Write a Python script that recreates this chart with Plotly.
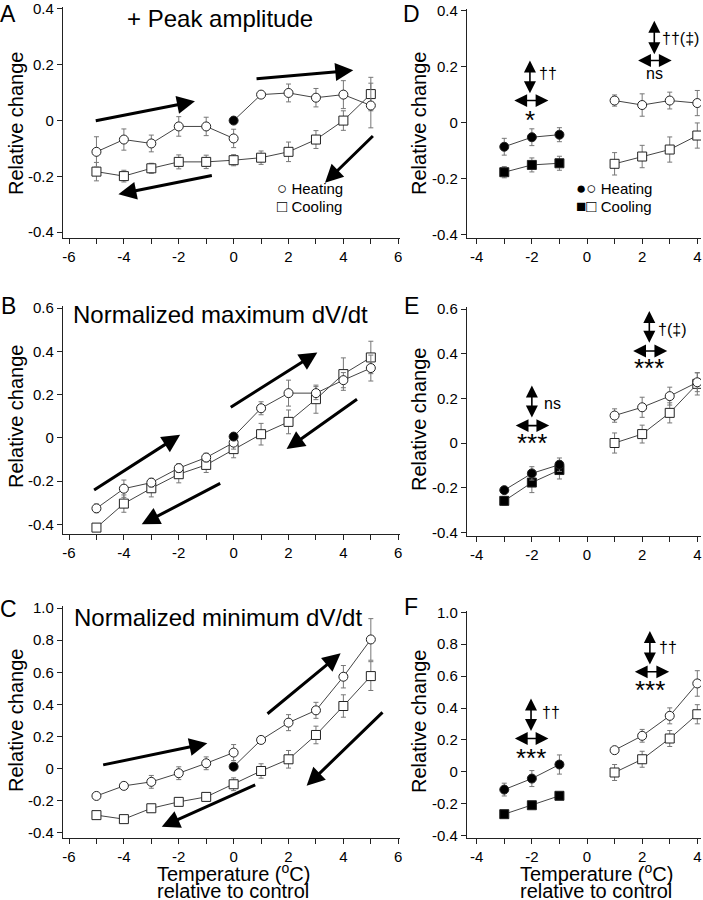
import plotly.graph_objects as go

# ---------------- data ----------------
temp_lo = [-5, -4, -3, -2, -1, 0]
temp_hi = [0, 1, 2, 3, 4, 5]
temp_all = [-5, -4, -3, -2, -1, 0, 1, 2, 3, 4, 5]
temp_neg = [-3, -2, -1]
temp_pos = [1, 2, 3, 4]

# Panel A: + Peak amplitude
a_heat_lo = [-0.112, -0.068, -0.082, -0.021, -0.021, -0.064]
a_heat_lo_err = [0.054, 0.038, 0.030, 0.035, 0.033, 0.033]
a_heat_hi = [0.0, 0.093, 0.099, 0.082, 0.093, 0.054]
a_heat_hi_err = [0.0, 0.010, 0.032, 0.033, 0.050, 0.080]
a_cool = [-0.183, -0.199, -0.171, -0.148, -0.148, -0.142, -0.133, -0.112, -0.068, 0.0, 0.095]
a_cool_err = [0.033, 0.021, 0.018, 0.025, 0.024, 0.020, 0.024, 0.035, 0.032, 0.035, 0.060]

# Panel B: normalized maximum dV/dt
b_heat_lo = [-0.326, -0.235, -0.207, -0.140, -0.091, -0.022]
b_heat_lo_err = [0.020, 0.040, 0.020, 0.020, 0.020, 0.030]
b_heat_hi = [0.006, 0.137, 0.207, 0.207, 0.267, 0.323]
b_heat_hi_err = [0.0, 0.030, 0.060, 0.030, 0.035, 0.060]
b_cool = [-0.415, -0.304, -0.233, -0.168, -0.125, -0.052, 0.017, 0.074, 0.179, 0.295, 0.372]
b_cool_err = [0.010, 0.040, 0.040, 0.040, 0.035, 0.040, 0.050, 0.055, 0.065, 0.075, 0.075]

# Panel C: normalized minimum dV/dt
c_heat_lo = [-0.173, -0.110, -0.085, -0.031, 0.031, 0.098]
c_heat_lo_err = [0.010, 0.020, 0.040, 0.040, 0.040, 0.050]
c_heat_hi = [0.010, 0.177, 0.285, 0.362, 0.572, 0.805]
c_heat_hi_err = [0.0, 0.010, 0.050, 0.050, 0.070, 0.130]
c_cool = [-0.293, -0.318, -0.250, -0.210, -0.179, -0.100, -0.017, 0.056, 0.208, 0.389, 0.576]
c_cool_err = [0.020, 0.010, 0.010, 0.010, 0.010, 0.040, 0.045, 0.055, 0.055, 0.070, 0.090]

# Panel D
d_heat_neg = [-0.085, -0.051, -0.042]
d_heat_neg_err = [0.030, 0.030, 0.025]
d_cool_neg = [-0.176, -0.150, -0.144]
d_cool_neg_err = [0.020, 0.025, 0.025]
d_heat_pos = [0.080, 0.064, 0.080, 0.071]
d_heat_pos_err = [0.020, 0.040, 0.030, 0.045]
d_cool_pos = [-0.146, -0.120, -0.095, -0.045]
d_cool_pos_err = [0.040, 0.040, 0.045, 0.045]

# Panel E
e_heat_neg = [-0.211, -0.136, -0.097]
e_heat_neg_err = [0.010, 0.030, 0.030]
e_cool_neg = [-0.259, -0.177, -0.121]
e_cool_neg_err = [0.020, 0.045, 0.040]
e_heat_pos = [0.123, 0.160, 0.210, 0.272]
e_heat_pos_err = [0.030, 0.045, 0.040, 0.042]
e_cool_pos = [0.0, 0.040, 0.135, 0.265]
e_cool_pos_err = [0.045, 0.040, 0.045, 0.050]

# Panel F
f_heat_neg = [-0.111, -0.042, 0.046]
f_heat_neg_err = [0.040, 0.050, 0.060]
f_cool_neg = [-0.265, -0.209, -0.150]
f_cool_neg_err = [0.010, 0.020, 0.020]
f_heat_pos = [0.136, 0.226, 0.351, 0.554]
f_heat_pos_err = [0.010, 0.040, 0.050, 0.080]
f_cool_pos = [-0.004, 0.079, 0.209, 0.361]
f_cool_pos_err = [0.050, 0.050, 0.050, 0.060]

# tick labels
left_x_ticks = [-6, -5, -4, -3, -2, -1, 0, 1, 2, 3, 4, 5, 6]
left_x_labels = ['-6', '', '-4', '', '-2', '', '0', '', '2', '', '4', '', '6']
right_x_ticks = [-4, -3, -2, -1, 0, 1, 2, 3, 4]
right_x_labels = ['-4', '', '-2', '', '0', '', '2', '', '4']
yt_a = [-0.4, -0.2, 0, 0.2, 0.4]
yl_a = ['-0.4', '-0.2', '0', '0.2', '0.4']
yt_b = [-0.4, -0.2, 0, 0.2, 0.4, 0.6]
yl_b = ['-0.4', '-0.2', '0', '0.2', '0.4', '0.6']
yt_c = [-0.4, -0.2, 0, 0.2, 0.4, 0.6, 0.8, 1.0]
yl_c = ['-0.4', '-0.2', '0', '0.2', '0.4', '0.6', '0.8', '1.0']

titles = ['+ Peak amplitude', 'Normalized maximum dV/dt', 'Normalized minimum dV/dt']
panel_letters = ['A', 'B', 'C', 'D', 'E', 'F']

# ---------------- styling ----------------
FONT = 'Liberation Sans, Arial, Helvetica, sans-serif'
W, H = 703, 900
LINE = '#444444'
ERR = '#777777'
MK_LINE = '#222222'
MSIZE = 9


def px(xp):
    return xp / W


def py(yp):
    return 1 - yp / H


fig = go.Figure()


def add_series(xs, ys, errs, axis, symbol, fills):
    xa = 'x' if axis == 1 else 'x%d' % axis
    ya = 'y' if axis == 1 else 'y%d' % axis
    fig.add_trace(go.Scatter(
        x=xs, y=ys, mode='lines+markers', xaxis=xa, yaxis=ya,
        line=dict(color=LINE, width=1),
        marker=dict(symbol=symbol, size=MSIZE, color=fills,
                    line=dict(color=MK_LINE, width=1)),
        error_y=dict(type='data', array=errs, visible=True, color=ERR,
                     thickness=1, width=2.5),
        showlegend=False, hoverinfo='skip'))


# Left panels
left_sets = [
    (a_heat_lo, a_heat_lo_err, a_heat_hi, a_heat_hi_err, a_cool, a_cool_err),
    (b_heat_lo, b_heat_lo_err, b_heat_hi, b_heat_hi_err, b_cool, b_cool_err),
    (c_heat_lo, c_heat_lo_err, c_heat_hi, c_heat_hi_err, c_cool, c_cool_err),
]
for i, (hl, hle, hh, hhe, cc, cce) in enumerate(left_sets):
    ax = i + 1
    add_series(temp_all, cc, cce, ax, 'square', 'white')
    add_series(temp_lo, hl, hle, ax, 'circle', 'white')
    add_series(temp_hi, hh, hhe, ax, 'circle',
               ['black'] + ['white'] * (len(temp_hi) - 1))

# Right panels
right_sets = [
    (d_heat_neg, d_heat_neg_err, d_cool_neg, d_cool_neg_err,
     d_heat_pos, d_heat_pos_err, d_cool_pos, d_cool_pos_err),
    (e_heat_neg, e_heat_neg_err, e_cool_neg, e_cool_neg_err,
     e_heat_pos, e_heat_pos_err, e_cool_pos, e_cool_pos_err),
    (f_heat_neg, f_heat_neg_err, f_cool_neg, f_cool_neg_err,
     f_heat_pos, f_heat_pos_err, f_cool_pos, f_cool_pos_err),
]
for i, (hn, hne, cn, cne, hp, hpe, cp, cpe) in enumerate(right_sets):
    ax = i + 4
    add_series(temp_neg, cn, cne, ax, 'square', 'black')
    add_series(temp_neg, hn, hne, ax, 'circle', 'black')
    add_series(temp_pos, cp, cpe, ax, 'square', 'white')
    add_series(temp_pos, hp, hpe, ax, 'circle', 'white')

# ---------------- axes ----------------
left_xdom = [px(63), px(400)]
right_xdom = [px(467), px(701)]
left_xrange = [-6.219, 6.063]
right_xrange = [-4.352, 4.134]

ydoms = {
    1: ([py(237.5), py(7)], [-0.419, 0.407], yt_a, yl_a),
    2: ([py(534.3), py(306)], [-0.446, 0.61], yt_b, yl_b),
    3: ([py(837.7), py(606)], [-0.434, 1.014], yt_c, yl_c),
    4: ([py(238), py(9)], [-0.411, 0.407], yt_a, yl_a),
    5: ([py(535.7), py(307)], [-0.415, 0.609], yt_b, yl_b),
    6: ([py(837.7), py(611)], [-0.4125, 1.008], yt_c, yl_c),
}

common = dict(showline=True, linecolor='#222222', linewidth=1.3,
              ticks='outside', ticklen=5, tickwidth=1.2, tickcolor='#222222',
              showgrid=False, zeroline=False, automargin=False,
              tickfont=dict(family=FONT, size=15, color='black'))

layout = dict(template='none', width=W, height=H, autosize=False,
              margin=dict(l=0, r=0, t=0, b=0, pad=0),
              paper_bgcolor='white', plot_bgcolor='white',
              font=dict(family=FONT, color='black'), showlegend=False)

for ax in range(1, 7):
    xk = 'xaxis' if ax == 1 else 'xaxis%d' % ax
    yk = 'yaxis' if ax == 1 else 'yaxis%d' % ax
    yanchor = 'y' if ax == 1 else 'y%d' % ax
    xanchor = 'x' if ax == 1 else 'x%d' % ax
    if ax <= 3:
        xd, xr, xt, xl = left_xdom, left_xrange, left_x_ticks, left_x_labels
    else:
        xd, xr, xt, xl = right_xdom, right_xrange, right_x_ticks, right_x_labels
    yd, yr, ytv, ytl = ydoms[ax]
    layout[xk] = dict(domain=xd, range=xr, anchor=yanchor,
                      tickmode='array', tickvals=xt, ticktext=xl, **common)
    layout[yk] = dict(domain=yd, range=yr, anchor=xanchor,
                      tickmode='array', tickvals=ytv, ticktext=ytl, **common)

fig.update_layout(**layout)

annotations = []


def paper_text(text, xp, yp, size, xanchor='center', angle=0):
    annotations.append(dict(text=text, x=px(xp), y=py(yp), xref='paper', yref='paper',
                            xanchor=xanchor, yanchor='middle', showarrow=False,
                            textangle=angle,
                            font=dict(family=FONT, size=size, color='black')))


# titles
paper_text(titles[0], 220, 18, 24)
paper_text(titles[1], 220, 314, 24)
paper_text(titles[2], 218, 617, 24)

# panel letters
for letter, (xp, yp) in zip(panel_letters, [(8, 14), (8, 306), (8, 609),
                                            (411, 14), (411, 306), (411, 607)]):
    paper_text(letter, xp, yp, 23)

# y-axis titles
for xp, yp in [(16, 124), (16, 417), (16, 721), (419, 124), (419, 420), (419, 722)]:
    paper_text('Relative change', xp, yp, 20, angle=-90)

# x-axis titles
for xc in (233, 596):
    paper_text('Temperature (<sup>o</sup>C)', xc, 872, 20)
    paper_text('relative to control', xc, 891, 20)

# legends
BIG = "<span style='font-size:17px'>%s</span>"
paper_text(BIG % '\u25CB' + ' Heating', 275, 188, 15, xanchor='left')
paper_text(BIG % '\u25A1' + ' Cooling', 275, 207, 15, xanchor='left')
paper_text(BIG % '\u25CF\u25CB' + ' Heating', 574, 188, 15, xanchor='left')
paper_text(BIG % '\u25A0\u25A1' + ' Cooling', 574, 206, 15, xanchor='left')


def data_arrow(ax_id, x, y, axx, axy, width=3, size=1.2, both=False):
    xr = 'x' if ax_id == 1 else 'x%d' % ax_id
    yr = 'y' if ax_id == 1 else 'y%d' % ax_id
    d = dict(x=x, y=y, ax=axx, ay=axy, xref=xr, yref=yr, axref=xr, ayref=yr,
             text='', showarrow=True, arrowhead=2, arrowsize=size,
             arrowwidth=width, arrowcolor='black', standoff=0, startstandoff=0)
    if both:
        d.update(arrowside='end+start', startarrowhead=2, startarrowsize=size)
    annotations.append(d)


def data_text(ax_id, text, x, y, size, xanchor='center'):
    xr = 'x' if ax_id == 1 else 'x%d' % ax_id
    yr = 'y' if ax_id == 1 else 'y%d' % ax_id
    annotations.append(dict(text=text, x=x, y=y, xref=xr, yref=yr, showarrow=False,
                            xanchor=xanchor, yanchor='middle',
                            font=dict(family=FONT, size=size, color='black')))


# direction arrows in left panels: (head x, head y, tail x, tail y)
dir_arrows = {
    1: [(-1.41, 0.069, -5.08, -0.002), (4.36, 0.180, 0.78, 0.149),
        (3.33, -0.223, 5.13, -0.050), (-4.20, -0.264, -0.74, -0.196)],
    2: [(-1.95, 0.014, -5.14, -0.245), (3.05, 0.395, -0.16, 0.137),
        (1.93, -0.052, 4.55, 0.184), (-3.35, -0.400, -0.435, -0.207)],
    3: [(-0.96, 0.156, -4.81, 0.019), (3.90, 0.718, 1.18, 0.333),
        (2.66, -0.110, 5.48, 0.358), (-2.62, -0.366, 0.84, -0.100)],
}
for ax_id, arrs in dir_arrows.items():
    for (hx, hy, tx, ty) in arrs:
        data_arrow(ax_id, hx, hy, tx, ty)

# significance markers in right panels
sig = {
    4: [(-2.07, 0.101, 0.223, 0.080, -2.69, -1.40, '\u2020\u2020', -1.80, 0.176, '*', 0.010),
        (2.44, 0.240, 0.365, 0.223, 1.80, 3.07, '\u2020\u2020(\u2021)', 2.63, 0.302, 'ns', 0.177)],
    5: [(-2.00, 0.108, 0.257, 0.078, -2.64, -1.37, 'ns', -1.65, 0.178, '***', 0.000),
        (2.26, 0.442, 0.591, 0.412, 1.62, 2.91, '\u2020(\u2021)', 2.52, 0.509, '***', 0.334)],
    6: [(-2.03, 0.247, 0.460, 0.209, -2.67, -1.40, '\u2020\u2020', -1.72, 0.370, '***', 0.090),
        (2.28, 0.664, 0.882, 0.627, 1.68, 2.98, '\u2020\u2020', 2.55, 0.777, '***', 0.514)],
}
for ax_id, items in sig.items():
    for (vx, yb, yt, yh, xl, xr, lab, lx, ly, st, sy) in items:
        data_arrow(ax_id, vx, yt, vx, yb, width=1.6, size=1.5, both=True)
        data_arrow(ax_id, xr, yh, xl, yh, width=1.6, size=1.6, both=True)
        data_text(ax_id, lab, lx, ly, 16, xanchor='left')
        data_text(ax_id, st, vx, sy, 16 if st == 'ns' else 26)

fig.update_layout(annotations=annotations)
fig.write_html('out.html', config={'displayModeBar': False},
               post_script=("document.documentElement.style.margin='0px';"
                            "document.documentElement.style.overflow='hidden';"
                            "document.body.style.margin='0px';"
                            "document.body.style.padding='0px';"
                            "document.body.style.overflow='hidden';"))
